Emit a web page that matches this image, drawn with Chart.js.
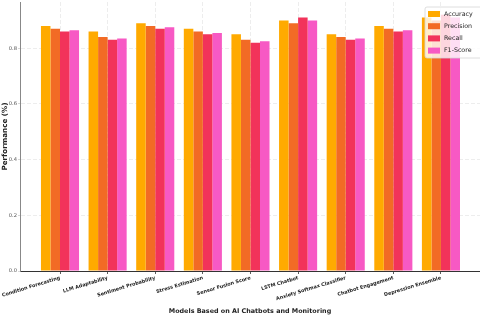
<!DOCTYPE html>
<html>
<head>
<meta charset="utf-8">
<script src="https://cdn.jsdelivr.net/npm/chart.js@4.4.1/dist/chart.umd.min.js"></script>
<style>
  html, body { margin: 0; padding: 0; background: #fff; overflow: hidden; }
  #wrap { width: 480px; height: 320px; }
</style>
</head>
<body>
<div id="wrap"><canvas id="perf"></canvas></div>
<script>
// data
const models = [
    'Condition Forecasting', 'LLM Adaptability', 'Sentiment Probability',
    'Stress Estimation', 'Sensor Fusion Score', 'LSTM Chatbot',
    'Anxiety Softmax Classifier', 'Chatbot Engagement', 'Depression Ensemble'
];
const accuracy  = [0.88, 0.86, 0.89, 0.87, 0.85, 0.90, 0.85, 0.88, 0.91];
const precision = [0.87, 0.84, 0.88, 0.86, 0.83, 0.89, 0.84, 0.87, 0.90];
const recall    = [0.86, 0.83, 0.87, 0.85, 0.82, 0.91, 0.83, 0.86, 0.92];
const f1score   = [0.865, 0.835, 0.875, 0.855, 0.825, 0.90, 0.835, 0.865, 0.91];
const yTicks = [0, 0.2, 0.4, 0.6, 0.8];

const FONT = 'DejaVu Sans';

// points on a numeric x axis so the margins can match the original
const toPoints = arr => arr.map((v, i) => ({ x: i, y: v }));

// legend drawn inside the plot, top right
const innerLegend = {
    id: 'innerLegend',
    afterDraw(chart) {
        const ctx = chart.ctx;
        const sets = chart.data.datasets;
        const x0 = 425, y0 = 7, w = 60, h = 51;
        ctx.save();
        ctx.beginPath();
        ctx.roundRect(x0, y0, w, h, 2);
        ctx.fillStyle = 'rgba(255,255,255,0.8)';
        ctx.fill();
        ctx.strokeStyle = '#d6d6d6';
        ctx.lineWidth = 0.8;
        ctx.stroke();
        ctx.font = '6.3px "' + FONT + '"';
        ctx.textBaseline = 'middle';
        sets.forEach((ds, i) => {
            const cy = 14 + i * 12.2;
            ctx.fillStyle = ds.backgroundColor;
            ctx.fillRect(428, cy - 3, 12, 6);
            ctx.fillStyle = '#222';
            ctx.fillText(ds.label, 444, cy);
        });
        ctx.restore();
    }
};

const ctx = document.getElementById('perf').getContext('2d');
const chart = new Chart(ctx, {
    type: 'bar',
    data: {
        datasets: [
            { label: 'Accuracy',  data: toPoints(accuracy),  backgroundColor: '#FFAA00' },
            { label: 'Precision', data: toPoints(precision), backgroundColor: '#F26B25' },
            { label: 'Recall',    data: toPoints(recall),    backgroundColor: '#F2335A' },
            { label: 'F1-Score',  data: toPoints(f1score),   backgroundColor: '#F759C4' }
        ]
    },
    options: {
        responsive: true,
        maintainAspectRatio: false,
        animation: false,
        devicePixelRatio: 1,
        layout: { padding: { top: 2, right: 0, left: 0, bottom: 0 } },
        datasets: { bar: { categoryPercentage: 0.8, barPercentage: 1.0 } },
        plugins: {
            legend: { display: false },
            tooltip: { enabled: false }
        },
        scales: {
            x: {
                type: 'linear',
                offset: false,
                bounds: 'data',
                min: -0.84,
                max: 8.82,
                afterBuildTicks: s => { s.ticks = models.map((_, i) => ({ value: i })); },
                afterFit: s => { s.height = 49; s.paddingLeft = 0; s.paddingRight = 0; },
                ticks: {
                    autoSkip: false,
                    minRotation: 17,
                    maxRotation: 17,
                    padding: 1,
                    color: '#222',
                    font: { family: FONT, size: 4.9, weight: 'bold' },
                    callback: v => models[v]
                },
                grid: {
                    offset: false,
                    color: 'rgba(0,0,0,0.09)',
                    tickColor: '#333',
                    tickLength: 3,
                    lineWidth: 0.8
                },
                border: { color: '#333', width: 1, dash: [4, 2] },
                title: {
                    display: true,
                    text: 'Models Based on AI Chatbots and Monitoring',
                    color: '#222',
                    font: { family: FONT, size: 6.4, weight: 'bold', lineHeight: 1.2 },
                    padding: { top: 0, bottom: 5 }
                }
            },
            y: {
                bounds: 'data',
                min: 0,
                max: 0.966,
                afterBuildTicks: s => { s.ticks = yTicks.map(v => ({ value: v })); },
                afterFit: s => { s.width = 20; s.paddingTop = 0; s.paddingBottom = 0; },
                ticks: {
                    padding: 1,
                    color: '#555',
                    font: { family: FONT, size: 5.2 },
                    callback: v => v.toFixed(1)
                },
                grid: {
                    color: 'rgba(0,0,0,0.09)',
                    tickColor: 'rgba(0,0,0,0.2)',
                    tickLength: 2,
                    lineWidth: 0.8
                },
                border: { color: '#888', width: 1, dash: [4, 2] },
                title: {
                    display: true,
                    text: 'Performance (%)',
                    color: '#222',
                    font: { family: FONT, size: 7.2, weight: 'bold', lineHeight: 1.2 },
                    padding: { top: 1, bottom: 0 }
                }
            }
        }
    },
    plugins: [innerLegend]
});
</script>
</body>
</html>
